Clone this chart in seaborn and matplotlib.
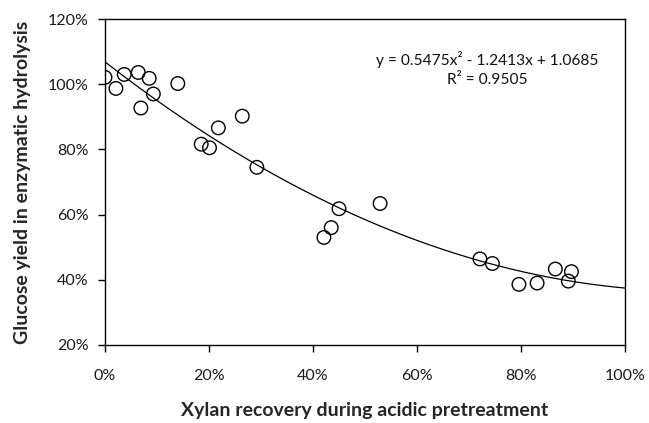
import numpy as np
import pandas as pd
import matplotlib
matplotlib.use("Agg")
import matplotlib.pyplot as plt
import seaborn as sns
from matplotlib.ticker import FuncFormatter

# Data (fractions)
xylan_recovery = [0.000, 0.021, 0.037, 0.064, 0.085, 0.093, 0.069, 0.140, 0.264, 0.218,
                  0.185, 0.201, 0.292, 0.450, 0.435, 0.421, 0.529, 0.721, 0.745, 0.796,
                  0.831, 0.866, 0.897, 0.891]
glucose_yield = [1.021, 0.987, 1.030, 1.036, 1.018, 0.970, 0.927, 1.002, 0.902, 0.866,
                 0.816, 0.805, 0.745, 0.618, 0.560, 0.530, 0.634, 0.464, 0.450, 0.386,
                 0.390, 0.433, 0.425, 0.396]
# Trendline coefficients as printed on the chart (a*x^2 + b*x + c)
trend_coeffs = [0.5475, -1.2413, 1.0685]
equation_text = "y = 0.5475x² - 1.2413x + 1.0685"
r2_text = "R² = 0.9505"
x_ticks = [0, 0.2, 0.4, 0.6, 0.8, 1.0]
y_ticks = [0.2, 0.4, 0.6, 0.8, 1.0, 1.2]

sns.set_style("white")
plt.rcParams['font.family'] = ['Lato', 'DejaVu Sans']

fig = plt.figure(figsize=(6.49, 4.23), dpi=100)
ax = fig.add_axes([105/649, 1 - 345/423, 520/649, (345 - 19)/423])

df = pd.DataFrame({"x": xylan_recovery, "y": glucose_yield})
sns.scatterplot(data=df, x="x", y="y", ax=ax, marker="o", s=95,
                facecolor="none", edgecolor="black", linewidth=1.0, zorder=3)

xs = np.linspace(0, 1, 200)
trend = pd.DataFrame({"x": xs, "y": np.polyval(trend_coeffs, xs)})
sns.lineplot(data=trend, x="x", y="y", ax=ax, color="black", linewidth=0.9, zorder=2)

ax.set_xlim(0, 1)
ax.set_ylim(0.2, 1.2)
ax.set_xticks(x_ticks)
ax.set_yticks(y_ticks)
pct = FuncFormatter(lambda v, p: f"{v*100:.0f}%")
ax.xaxis.set_major_formatter(pct)
ax.yaxis.set_major_formatter(pct)
ax.tick_params(axis="both", direction="out", length=5, width=1, color="black",
               labelsize=11.5, labelcolor="#1a1a1a")
ax.tick_params(axis="x", pad=12)
ax.tick_params(axis="y", pad=7)
ax.tick_params(bottom=True, left=True)

for sp in ax.spines.values():
    sp.set_visible(True)
    sp.set_color("black")
    sp.set_linewidth(1.0)

ax.set_xlabel("Xylan recovery during acidic pretreatment", fontsize=14,
              fontweight="bold", labelpad=14)
ax.set_ylabel("Glucose yield in enzymatic hydrolysis", fontsize=14,
              fontweight="bold", labelpad=12)

ax.text((487 - 105) / 520, 1 - (59 - 19) / 326, equation_text, transform=ax.transAxes,
        ha="center", va="center", fontsize=11.2, color="#111111")
ax.text((487 - 105) / 520, 1 - (80 - 19) / 326, r2_text, transform=ax.transAxes,
        ha="center", va="center", fontsize=11.2, color="#111111")

fig.savefig("out.png", dpi=100)
